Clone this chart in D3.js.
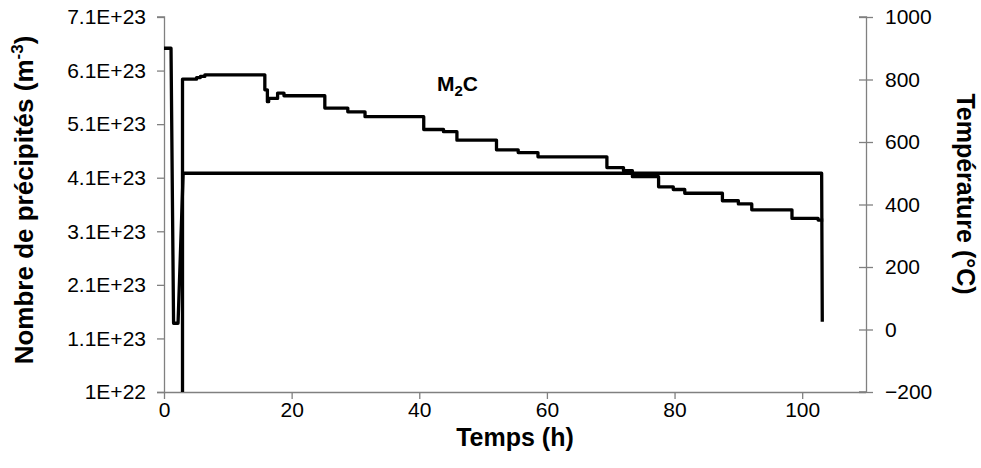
<!DOCTYPE html>
<html>
<head>
<meta charset="utf-8">
<script src="https://cdn.jsdelivr.net/npm/d3@7"></script>
<style>
  html, body { margin: 0; padding: 0; background: #fff; }
  svg { display: block; font-family: "Liberation Sans", Arial, sans-serif; }
</style>
</head>
<body>
<svg id="chart" width="981" height="468"></svg>
<script>
// ---- Data ----
const xTicks = [0, 20, 40, 60, 80, 100];
const leftTicks = [1e22, 1.1e23, 2.1e23, 3.1e23, 4.1e23, 5.1e23, 6.1e23, 7.1e23];
const leftTickLabels = ["1E+22", "1.1E+23", "2.1E+23", "3.1E+23", "4.1E+23", "5.1E+23", "6.1E+23", "7.1E+23"];
const rightTicks = [-200, 0, 200, 400, 600, 800, 1000];

// Temperature profile (°C) vs time (h)
const tempTime = [0, 1.1, 1.5, 2.2, 3.0, 103.05, 103.15];
const temperature = [900, 900, 20, 20, 500, 500, 25];

// Number of M2C precipitates (m^-3) vs time (h), stepwise
const precipTime = [2.9, 2.9, 5.1, 5.7, 6.4, 15.8, 16.2, 16.4, 17.8, 18.8, 25.2, 28.8, 31.5, 40.7, 43.8, 45.9, 52.1, 55.5, 58.6, 69.4, 72.0, 73.4, 77.5, 79.8, 81.6, 87.5, 90.0, 92.1, 98.4, 102.5, 103.3];
const precipitates = [1e22, 5.94e23, 5.97e23, 5.99e23, 6.02e23, 5.74e23, 5.52e23, 5.58e23, 5.68e23, 5.63e23, 5.40e23, 5.33e23, 5.24e23, 5.00e23, 4.96e23, 4.80e23, 4.62e23, 4.57e23, 4.49e23, 4.29e23, 4.23e23, 4.12e23, 3.93e23, 3.88e23, 3.81e23, 3.67e23, 3.61e23, 3.50e23, 3.34e23, 3.31e23, 3.31e23];

// ---- Layout ----
const svg = d3.select("#chart");
const mLeft = 164, mRight = 866, mTop = 17, mBottom = 392;

const x = d3.scaleLinear().domain([0, 110]).range([mLeft, mRight]);
const yL = d3.scaleLinear().domain([1e22, 7.1e23]).range([mBottom, mTop]);
const yR = d3.scaleLinear().domain([-200, 1000]).range([mBottom, mTop]);

const axisColor = "#808080";
const tickFont = "21px";

// Left axis
const gL = svg.append("g").attr("transform", `translate(${mLeft},0)`)
  .call(d3.axisLeft(yL).tickValues(leftTicks)
    .tickFormat((d, i) => leftTickLabels[i]).tickSize(7).tickPadding(11));
// Right axis
const gR = svg.append("g").attr("transform", `translate(${mRight},0)`)
  .call(d3.axisRight(yR).tickValues(rightTicks).tickFormat(d3.format("d"))
    .tickSize(7).tickPadding(12));
gR.selectAll(".tick line").attr("x1", -7);
// Bottom axis
const gB = svg.append("g").attr("transform", `translate(0,${mBottom})`)
  .call(d3.axisBottom(x).tickValues(xTicks).tickSize(7).tickPadding(3));

[gL, gR, gB].forEach(g => {
  g.select(".domain").attr("stroke", axisColor).attr("stroke-width", 1.3);
  g.selectAll(".tick line").attr("stroke", axisColor).attr("stroke-width", 1.3);
  g.selectAll(".tick text").attr("fill", "#000").style("font-size", tickFont)
    .style("font-family", "'Liberation Sans', Arial, sans-serif");
});
gB.select(".domain").attr("d", `M${mLeft},0.5H${mRight}`);
gL.select(".domain").attr("d", `M-7,${mBottom}.5H0.5V${mTop}H-7`);
gR.select(".domain").attr("d", `M-7,${mTop}H0.5V${mBottom}H-7`);

// ---- Lines ----
const tempLine = d3.line()
  .x((d, i) => x(tempTime[i]))
  .y(d => yR(d));
svg.append("path").datum(temperature)
  .attr("d", tempLine)
  .attr("fill", "none").attr("stroke", "#000").attr("stroke-width", 3.3)
  .attr("stroke-linejoin", "round");

const precipLine = d3.line()
  .x((d, i) => x(precipTime[i]))
  .y(d => yL(d))
  .curve(d3.curveStepAfter);
svg.append("path").datum(precipitates)
  .attr("d", precipLine)
  .attr("fill", "none").attr("stroke", "#000").attr("stroke-width", 3.3)
  .attr("stroke-linejoin", "round");

// ---- Labels ----
svg.append("text")
  .attr("transform", `translate(33,200) rotate(-90)`)
  .attr("text-anchor", "middle")
  .style("font-size", "26px").style("font-weight", "bold")
  .html('Nombre de précipités (m<tspan dy="-10" font-size="17px">-3</tspan><tspan dy="10">)</tspan>');

svg.append("text")
  .attr("transform", `translate(957,194) rotate(90)`)
  .attr("text-anchor", "middle")
  .style("font-size", "25px").style("font-weight", "bold")
  .text("Température (°C)");

svg.append("text")
  .attr("x", 515).attr("y", 446)
  .attr("text-anchor", "middle")
  .style("font-size", "25px").style("font-weight", "bold")
  .text("Temps (h)");

svg.append("text")
  .attr("x", 437).attr("y", 91)
  .style("font-size", "21px").style("font-weight", "bold")
  .html('M<tspan dy="5" font-size="15px">2</tspan><tspan dy="-5">C</tspan>');
</script>
</body>
</html>
